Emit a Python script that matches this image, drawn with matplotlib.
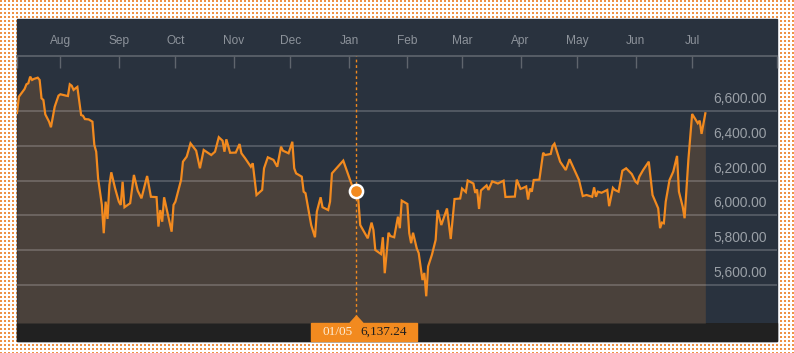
import numpy as np
import pandas as pd
import matplotlib
matplotlib.use("Agg")
import matplotlib.pyplot as plt
import matplotlib.dates as mdates
from matplotlib.patches import Rectangle, Polygon
from matplotlib.transforms import blended_transform_factory, offset_copy


# data (FTSE 100)

dates = [
    "2015-07-09", "2015-07-10", "2015-07-13", "2015-07-14", "2015-07-15", "2015-07-16",
    "2015-07-17", "2015-07-18", "2015-07-20", "2015-07-21", "2015-07-22", "2015-07-23",
    "2015-07-24", "2015-07-26", "2015-07-27", "2015-07-29", "2015-07-31", "2015-08-01",
    "2015-08-04", "2015-08-05", "2015-08-06", "2015-08-07", "2015-08-08", "2015-08-09",
    "2015-08-10", "2015-08-12", "2015-08-13", "2015-08-14", "2015-08-16", "2015-08-18",
    "2015-08-19", "2015-08-20", "2015-08-21", "2015-08-23", "2015-08-24", "2015-08-25",
    "2015-08-26", "2015-08-27", "2015-08-28", "2015-08-30", "2015-09-01", "2015-09-02",
    "2015-09-03", "2015-09-04", "2015-09-07", "2015-09-09", "2015-09-11", "2015-09-13",
    "2015-09-16", "2015-09-18", "2015-09-21", "2015-09-22", "2015-09-23", "2015-09-24",
    "2015-09-25", "2015-09-29", "2015-09-30", "2015-10-01", "2015-10-04", "2015-10-05",
    "2015-10-07", "2015-10-09", "2015-10-12", "2015-10-14", "2015-10-16", "2015-10-20",
    "2015-10-22", "2015-10-24", "2015-10-26", "2015-10-27", "2015-10-28", "2015-10-30",
    "2015-11-02", "2015-11-04", "2015-11-05", "2015-11-07", "2015-11-10", "2015-11-11",
    "2015-11-13", "2015-11-16", "2015-11-17", "2015-11-19", "2015-11-22", "2015-11-24",
    "2015-11-26", "2015-11-27", "2015-11-30", "2015-12-02", "2015-12-03", "2015-12-04",
    "2015-12-07", "2015-12-08", "2015-12-09", "2015-12-12", "2015-12-14", "2015-12-15",
    "2015-12-17", "2015-12-18", "2015-12-21", "2015-12-22", "2015-12-23", "2015-12-29",
    "2016-01-01", "2016-01-03", "2016-01-05", "2016-01-06", "2016-01-07", "2016-01-09",
    "2016-01-11", "2016-01-13", "2016-01-14", "2016-01-15", "2016-01-18", "2016-01-19",
    "2016-01-20", "2016-01-22", "2016-01-23", "2016-01-25", "2016-01-27", "2016-01-28",
    "2016-01-29", "2016-02-01", "2016-02-02", "2016-02-03", "2016-02-04", "2016-02-06",
    "2016-02-07", "2016-02-09", "2016-02-10", "2016-02-11", "2016-02-12", "2016-02-14",
    "2016-02-16", "2016-02-17", "2016-02-19", "2016-02-22", "2016-02-24", "2016-02-26",
    "2016-02-29", "2016-03-01", "2016-03-03", "2016-03-04", "2016-03-07", "2016-03-08",
    "2016-03-09", "2016-03-10", "2016-03-11", "2016-03-14", "2016-03-15", "2016-03-17",
    "2016-03-20", "2016-03-23", "2016-03-24", "2016-03-29", "2016-03-30", "2016-04-01",
    "2016-04-02", "2016-04-04", "2016-04-05", "2016-04-06", "2016-04-07", "2016-04-08",
    "2016-04-11", "2016-04-13", "2016-04-14", "2016-04-17", "2016-04-18", "2016-04-19",
    "2016-04-22", "2016-04-25", "2016-04-27", "2016-04-30", "2016-05-02", "2016-05-04",
    "2016-05-06", "2016-05-09", "2016-05-10", "2016-05-11", "2016-05-12", "2016-05-14",
    "2016-05-17", "2016-05-18", "2016-05-20", "2016-05-21", "2016-05-23", "2016-05-25",
    "2016-05-27", "2016-05-30", "2016-06-01", "2016-06-02", "2016-06-03", "2016-06-05",
    "2016-06-08", "2016-06-10", "2016-06-12", "2016-06-13", "2016-06-14", "2016-06-15",
    "2016-06-16", "2016-06-17", "2016-06-19", "2016-06-21", "2016-06-23", "2016-06-24",
    "2016-06-26", "2016-06-27", "2016-06-29", "2016-07-01", "2016-07-04", "2016-07-05",
    "2016-07-06", "2016-07-08",
]

values = [
    6587, 6680, 6724, 6751, 6757, 6795,
    6776, 6782, 6789, 6776, 6671, 6661,
    6579, 6537, 6505, 6623, 6686, 6694,
    6686, 6684, 6751, 6743, 6719, 6728,
    6736, 6575, 6571, 6552, 6550, 6537,
    6404, 6365, 6213, 6060, 5898, 6079,
    5980, 6174, 6247, 6156, 6079, 6060,
    6193, 6047, 6070, 6232, 6142, 6098,
    6226, 6107, 6105, 5936, 6031, 5964,
    6104, 5907, 6060, 6079, 6203, 6308,
    6337, 6413, 6371, 6270, 6375, 6346,
    6365, 6448, 6428, 6365, 6436, 6359,
    6360, 6409, 6356, 6327, 6279, 6299,
    6117, 6146, 6270, 6333, 6318, 6279,
    6394, 6371, 6356, 6422, 6270, 6241,
    6222, 6136, 6127, 5945, 5875, 6022,
    6104, 6047, 6031, 6079, 6241, 6314,
    6222, 6161, 6137.24, 6089, 5945, 5907,
    5869, 5959, 5917, 5802, 5779, 5875,
    5669, 5901, 5882, 5875, 5993, 5927,
    6085, 6066, 5898, 5841, 5901, 5810,
    5785, 5630, 5671, 5537, 5708, 5774,
    5860, 6031, 5945, 6040, 5865, 6094,
    6097, 6154, 6134, 6200, 6183, 6129,
    6149, 6037, 6143, 6172, 6146, 6195,
    6183, 6199, 6106, 6108, 6205, 6152,
    6156, 6166, 6091, 6154, 6136, 6203,
    6205, 6359, 6346, 6352, 6398, 6411,
    6308, 6260, 6322, 6251, 6203, 6111,
    6117, 6107, 6161, 6107, 6136, 6130,
    6146, 6053, 6158, 6146, 6136, 6256,
    6270, 6237, 6193, 6184, 6222, 6260,
    6308, 6117, 6066, 6041, 5927, 5959,
    5955, 6079, 6203, 6251, 6341, 6136,
    6050, 5984, 6318, 6581, 6528, 6543,
    6467, 6585,
]

month_ticks = pd.date_range("2015-08-01", "2016-07-01", freq="MS")
y_ticks = [5600, 5800, 6000, 6200, 6400, 6600]
hover_date = "2016-01-05"
hover_value = 6137.24
hover_label = "01/05"

x_end = "2016-08-15"
y_min, y_max = 5384, 6916

# colours
ORANGE = "#f28a1f"
PANEL = "#29323e"
FILL = "#4a413b"
BAR = "#212121"
TXT = "#8d939b"

W, H = 794, 353
fig = plt.figure(figsize=(W / 100, H / 100), dpi=100)
fig.patch.set_facecolor("white")

# dotted orange background
pattern = np.ones((H, W, 3))
yy, xx = np.mgrid[0:H, 0:W]
dots = ((xx % 4) < 2) & ((yy % 4) < 2)
pattern[dots] = np.array([238, 146, 70]) / 255
fig.figimage(pattern, xo=0, yo=0, origin="upper", zorder=-3)

# panel + bottom bar
fig.patches.append(Rectangle((17 / W, 12 / H), 760 / W, 322 / H,
                             transform=fig.transFigure, color=PANEL, zorder=-2))
fig.patches.append(Rectangle((17 / W, 12 / H), 760 / W, 18 / H,
                             transform=fig.transFigure, color=BAR, zorder=-1))

ax = fig.add_axes([17 / W, 30 / H, 760 / W, 267.5 / H])
ax.set_facecolor(PANEL)

x = pd.to_datetime(dates)
y = np.array(values, dtype=float)

ax.fill_between(x, y, y_min, color=FILL, lw=0, zorder=1)
for v in y_ticks:
    ax.axhline(v, color="white", alpha=0.22, lw=1.2, zorder=2)
ax.plot(x, y, color=ORANGE, lw=1.6, zorder=4, solid_joinstyle="miter")

ax.set_xlim(x[0], pd.Timestamp(x_end))
ax.set_ylim(y_min, y_max)

# y labels sit above the grid lines, inside the plot
lab_tr = offset_copy(blended_transform_factory(ax.transAxes, ax.transData),
                     fig=fig, x=0, y=12, units="dots")
for v in y_ticks:
    ax.text(0.9868, v, f"{v:,.2f}", transform=lab_tr, ha="right", va="center",
            fontsize=9.9, color="#9aa0a7", family="Liberation Sans", zorder=5)
ax.set_yticks([])

# month axis on top
ax.xaxis.tick_top()
ax.set_xticks(month_ticks)
ax.xaxis.set_major_formatter(mdates.DateFormatter("%b"))
ax.set_xticks([x[0], pd.Timestamp(x_end)], minor=True)
ax.tick_params(axis="x", which="both", direction="in", length=8.3, width=1,
               color="#5f656d", pad=6, labelsize=8.6, labelcolor=TXT)
for lab in ax.get_xticklabels():
    lab.set_family("Liberation Sans")
for s in ["left", "right", "bottom"]:
    ax.spines[s].set_visible(False)
ax.spines["top"].set_color("#5f656d")
ax.spines["top"].set_linewidth(1.2)

# hover crosshair
hd = pd.Timestamp(hover_date)
hx = mdates.date2num(hd)
ax.axvline(hd, color=ORANGE, lw=1, ls=(0, (2, 2)), zorder=3)
ax.plot([hd], [hover_value], "o", ms=9.5, mfc=ORANGE, mec="white", mew=1.8,
        zorder=6, clip_on=False)

bt = blended_transform_factory(ax.transData, ax.transAxes)
ax.add_patch(Polygon([(hx - 3.4, 0), (hx + 3.4, 0), (hx, 7 / 267.5)], closed=True,
                     color=ORANGE, transform=bt, clip_on=False, zorder=6))
ax.add_patch(Rectangle((hx - 23.9, -18 / 267.5), 56.2, 18 / 267.5, color=ORANGE,
                       transform=bt, clip_on=False, zorder=6))
ax.text(hx - 18, -9 / 267.5, hover_label, transform=bt, ha="left", va="center",
        fontsize=9.5, color="#fdebd3", family="Liberation Serif", zorder=7)
ax.text(hx + 2.1, -9 / 267.5, f"{hover_value:,.2f}", transform=bt, ha="left",
        va="center", fontsize=9.5, color="#1e1e1e", family="Liberation Serif", zorder=7)

fig.savefig("out.png", dpi=100)
